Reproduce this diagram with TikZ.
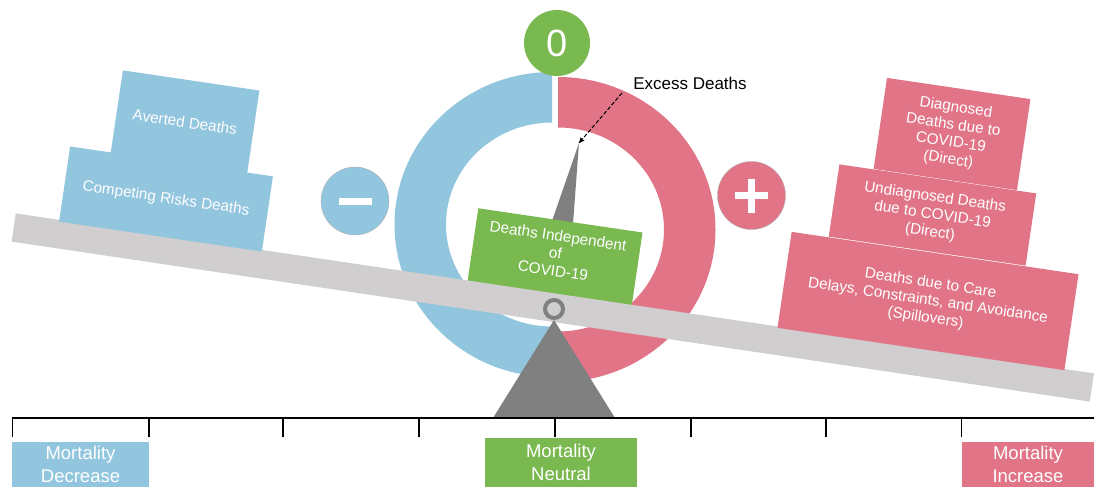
\documentclass[tikz,border=0pt]{standalone}
\usepackage{fontspec}
\setmainfont{Liberation Sans}
\usepackage{tikz}
\usetikzlibrary{
  arrows,
  positioning,
  calc
}
\definecolor{mblue}{RGB}{146,197,222}
\definecolor{mpink}{RGB}{225,117,135}
\definecolor{mgreen}{RGB}{122,184,80}
\definecolor{beamgrey}{RGB}{208,206,207}
\definecolor{darkgrey}{RGB}{128,128,128}
\begin{document}
\begin{tikzpicture}[x=1pt,y=-1pt,
      block/.style={
         rectangle,
         inner sep=0pt,
         rotate=-8.4,
         text=white,
         align=center,
         font=\fontsize{15.3}{17.5}\selectfont
      },
      blueblock/.style={block,fill=mblue},
      pinkblock/.style={block,fill=mpink},
      sign/.style={
         circle,
         minimum size=68pt,
         inner sep=0pt,
         draw=gray!60,
         thin
      },
      scalebox/.style={
         rectangle,
         inner sep=0pt,
         text=white,
         align=center,
         font=\fontsize{18.5}{22.5}\selectfont
      },
      >=stealth'
    ]
    \useasboundingbox (0,0) rectangle (1094,487);
    % ring
    \fill[mblue] (552,229.5) ++(0,-157.5) arc[start angle=270,end angle=90,x radius=157.5,y radius=152.5]
       -- ++(0,-50.5) arc[start angle=90,end angle=270,x radius=106,y radius=102] -- cycle;
    \fill[mpink] (558,229.5) ++(0,-152.5) arc[start angle=-90,end angle=90,x radius=157.5,y radius=152.5]
       -- ++(0,-50.5) arc[start angle=90,end angle=-90,x radius=106,y radius=102] -- cycle;
    \node (zero) [circle, fill=mgreen, minimum size=66pt, inner sep=0pt, text=white,
       font=\fontsize{38}{40}\selectfont] at (557,43) {0};
    % signs
    \node (minus) [sign, fill=mblue] at (355,201) {};
    \fill[white] ($(minus.center)+(-16.5,-3)$) rectangle ($(minus.center)+(16.5,3.5)$);
    \node (plus) [sign, fill=mpink] at (751.5,195.5) {};
    \fill[white] ($(plus.center)+(-16.5,-3.5)$) rectangle ($(plus.center)+(16.5,3.5)$);
    \fill[white] ($(plus.center)+(-3.5,-17)$) rectangle ($(plus.center)+(3.5,17)$);
    % pointer
    \coordinate (tip) at (579,143);
    \fill[darkgrey] (552,221) -- (tip) -- (573,224) -- cycle;
    \node (indep) [block, fill=mgreen, minimum width=166pt, minimum height=74pt,
       text depth=8pt] at (555,257) {Deaths Independent\\of\\COVID-19};
    % beam and pivot
    \node (beam) [rectangle, fill=beamgrey, rotate=-8.44, minimum width=1090pt,
       minimum height=28.5pt, inner sep=0pt] at (552.75,307.5) {};
    \node (pivot) [circle, draw=darkgrey, line width=4pt, fill=beamgrey,
       minimum size=18pt, inner sep=0pt] at (554,309) {};
    \coordinate (apex) at (554,320);
    \fill[darkgrey] (apex) -- (493,418) -- (615,418) -- cycle;
    % left weights
    \node (competing) [blueblock, minimum width=205pt, minimum height=76pt] at (166,199)
       {Competing Risks Deaths};
    \node (averted) [blueblock, minimum width=138pt, minimum height=84pt] at (185,122)
       {Averted Deaths};
    % right weights
    \node (diagnosed) [pinkblock, minimum width=145pt, minimum height=92pt] at (952,134)
       {Diagnosed\\Deaths due to\\COVID-19\\(Direct)};
    \node (undiagnosed) [pinkblock, minimum width=199pt, minimum height=73pt] at (932.5,215)
       {Undiagnosed Deaths\\due to COVID-19\\(Direct)};
    \node (spillover) [pinkblock, minimum width=290pt, minimum height=97pt] at (928,301)
       {Deaths due to Care\\Delays, Constraints, and Avoidance\\(Spillovers)};
    % axis
    \coordinate (axl) at (12,418);
    \coordinate (axr) at (1094,418);
    \foreach \x in {12.5,149,283,419,555,691,826,961.5}
       \draw[line width=1.3pt] (\x,418) -- (\x,437);
    \draw[line width=2.5pt] (axl) -- (axr);
    \node (decrease) [scalebox, fill=mblue, minimum width=137pt, minimum height=45pt]
       at (80.5,464.5) {Mortality\\Decrease};
    \node (neutral) [scalebox, fill=mgreen, minimum width=152pt, minimum height=49pt]
       at (561,462.5) {Mortality\\Neutral};
    \node (increase) [scalebox, fill=mpink, minimum width=132pt, minimum height=45pt]
       at (1028,464.5) {Mortality\\Increase};
    % excess label
    \node (excess) [font=\fontsize{17}{19}\selectfont] at (690,83) {Excess Deaths};
    \coordinate (xs) at (622,93);
    \draw[->, dashed, line width=1pt, dash pattern=on 4pt off 2pt] (xs) -- (tip);
\end{tikzpicture}
\end{document}
